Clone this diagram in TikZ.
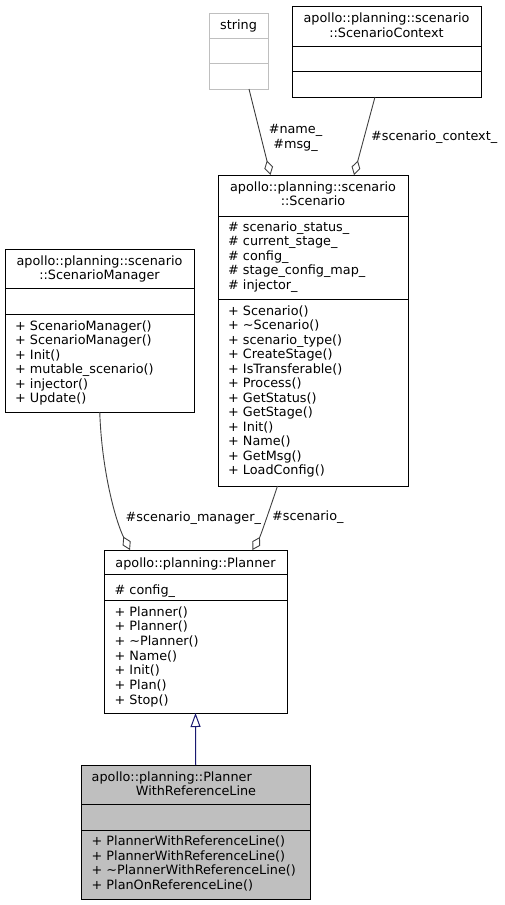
\documentclass[tikz,border=0pt]{standalone}
\usepackage{fontspec}
\setmainfont{DejaVu Sans}
\usetikzlibrary{arrows.meta}

\definecolor{edgegray}{HTML}{404040}
\definecolor{lightframe}{HTML}{BFBFBF}
\definecolor{basefill}{HTML}{BFBFBF}
\definecolor{inhblue}{HTML}{191970}

\tikzset{
	classbox/.style={draw=black, line width=1pt, anchor=north west, inner sep=0pt, outer sep=0pt},
	splitline/.style={draw=black, line width=1pt},
	member/.style={anchor=base west, inner sep=0pt},
	classname/.style={anchor=base, inner sep=0pt},
	uses/.style={draw=edgegray, line width=0.9pt, -{Diamond[open, length=15pt, width=9pt]}},
	derives/.style={draw=inhblue, line width=1pt, -{Triangle[open, length=14pt, width=10pt]}},
}

\begin{document}
\begin{tikzpicture}[x=1pt, y=-1pt, font=\fontsize{12.8}{14.5}\selectfont]
	\useasboundingbox (0,0) rectangle (505,905);

	% string
	\node[classbox, draw=lightframe, minimum width=59pt, minimum height=76pt] (string) at (209,13) {};
	\draw[splitline, draw=lightframe] (string.west |- 0,38) -- (string.east |- 0,38);
	\draw[splitline, draw=lightframe] (string.west |- 0,63) -- (string.east |- 0,63);
	\node[classname] (string-t) at (238.5,29.3) {string};

	% scenario context
	\node[classbox, minimum width=189pt, minimum height=91pt] (context) at (292,6) {};
	\draw[splitline] (context.west |- 0,46) -- (context.east |- 0,46);
	\draw[splitline] (context.west |- 0,71) -- (context.east |- 0,71);
	\node[classname] (context-t1) at (386.5,22.3) {apollo::planning::scenario};
	\node[classname] (context-t2) at (386.5,37.3) {::ScenarioContext};

	% scenario
	\node[classbox, minimum width=190pt, minimum height=311pt] (scenario) at (218,175) {};
	\draw[splitline] (scenario.west |- 0,216) -- (scenario.east |- 0,216);
	\draw[splitline] (scenario.west |- 0,299) -- (scenario.east |- 0,299);
	\node[classname] (scenario-t1) at (313,191.7) {apollo::planning::scenario};
	\node[classname] (scenario-t2) at (313,205.7) {::Scenario};
	\foreach \a [count=\i from 0] in {{\# scenario\_status\_}, {\# current\_stage\_}, {\# config\_},
			{\# stage\_config\_map\_}, {\# injector\_}}
		\node[member] (scenario-a\i) at (228, 231+14.6*\i) {\a};
	\foreach \m [count=\i from 0] in {{+ Scenario()}, {+ \textasciitilde Scenario()}, {+ scenario\_type()},
			{+ CreateStage()}, {+ IsTransferable()}, {+ Process()}, {+ GetStatus()}, {+ GetStage()},
			{+ Init()}, {+ Name()}, {+ GetMsg()}, {+ LoadConfig()}}
		\node[member] (scenario-m\i) at (228, 315+14.5*\i) {\m};

	% scenario manager
	\node[classbox, minimum width=189.5pt, minimum height=163pt] (manager) at (5,249) {};
	\draw[splitline] (manager.west |- 0,288.5) -- (manager.east |- 0,288.5);
	\draw[splitline] (manager.west |- 0,314) -- (manager.east |- 0,314);
	\node[classname] (manager-t1) at (99.5,265) {apollo::planning::scenario};
	\node[classname] (manager-t2) at (99.5,279) {::ScenarioManager};
	\foreach \m [count=\i from 0] in {{+ ScenarioManager()}, {+ ScenarioManager()}, {+ Init()},
			{+ mutable\_scenario()}, {+ injector()}, {+ Update()}}
		\node[member] (manager-m\i) at (15, 330+14.5*\i) {\m};

	% planner
	\node[classbox, minimum width=183pt, minimum height=163pt] (planner) at (104,550) {};
	\draw[splitline] (planner.west |- 0,574) -- (planner.east |- 0,574);
	\draw[splitline] (planner.west |- 0,600.5) -- (planner.east |- 0,600.5);
	\node[classname] (planner-t) at (195.5,567.3) {apollo::planning::Planner};
	\node[member] (planner-a0) at (114.5,594) {\# config\_};
	\foreach \m [count=\i from 0] in {{+ Planner()}, {+ Planner()}, {+ \textasciitilde Planner()},
			{+ Name()}, {+ Init()}, {+ Plan()}, {+ Stop()}}
		\node[member] (planner-m\i) at (114.5, 616+14.7*\i) {\m};

	% planner with reference line
	\node[classbox, fill=basefill, minimum width=229.5pt, minimum height=134pt] (pwrl) at (81,765) {};
	\draw[splitline] (pwrl.west |- 0,804.5) -- (pwrl.east |- 0,804.5);
	\draw[splitline] (pwrl.west |- 0,830) -- (pwrl.east |- 0,830);
	\node[member] (pwrl-t1) at (91.5,781.7) {apollo::planning::Planner};
	\node[classname] (pwrl-t2) at (196,795) {WithReferenceLine};
	\foreach \m [count=\i from 0] in {{+ PlannerWithReferenceLine()}, {+ PlannerWithReferenceLine()},
			{+ \textasciitilde PlannerWithReferenceLine()}, {+ PlanOnReferenceLine()}}
		\node[member] (pwrl-m\i) at (91.5, 845.7+14.5*\i) {\m};

	% edges
	\draw[uses] ([xshift=10.5pt]string.south) -- ([xshift=-42.5pt]scenario.north);
	\draw[uses] ([xshift=-11.5pt]context.south) -- ([xshift=41pt]scenario.north);
	\draw[uses] (manager.south) .. controls +(2,60) and +(-14,-28) .. ([xshift=-65.5pt]planner.north);
	\draw[uses] ([xshift=-35.5pt]scenario.south) .. controls +(-7,21) and +(8,-14) .. ([xshift=57pt]planner.north);
	\draw[derives] (pwrl.north) -- (planner.south);

	\node[align=center, inner sep=0pt] (lbl-string) at (295.5,138) {\#name\_\\\#msg\_};
	\node[member] (lbl-context) at (371,140) {\#scenario\_context\_};
	\node[member] (lbl-manager) at (125.5,521) {\#scenario\_manager\_};
	\node[member] (lbl-scenario) at (272,520) {\#scenario\_};
\end{tikzpicture}
\end{document}
